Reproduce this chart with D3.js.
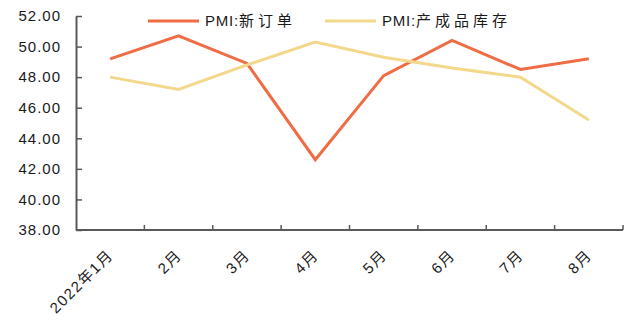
<!DOCTYPE html>
<html>
<head>
<meta charset="utf-8">
<script src="https://cdn.jsdelivr.net/npm/d3@7"></script>
<style>
  body { margin: 0; background: #fff; }
  text { font-family: "Liberation Sans", Arial, "Noto Sans CJK SC", sans-serif; fill: #1a1a1a; }
</style>
</head>
<body>
<div id="chart"></div>
<script>
// chart data
var months = ["2022年1月", "2月", "3月", "4月", "5月", "6月", "7月", "8月"];
var newOrders = [49.2, 50.7, 48.9, 42.6, 48.1, 50.4, 48.5, 49.2];
var finishedStock = [48.0, 47.2, 48.8, 50.3, 49.3, 48.6, 48.0, 45.2];
var yTicks = [38, 40, 42, 44, 46, 48, 50, 52];
var seriesNames = [["PMI:", "新订单"], ["PMI:", "产成品库存"]];
var colors = ["#ef6c45", "#f2d88a"];

var svgWidth = 630;
var svgHeight = 323;
var margin = { top: 16, right: 7, bottom: 93, left: 76 };
var width = svgWidth - margin.left - margin.right;
var height = svgHeight - margin.top - margin.bottom;

var svg = d3.select("#chart")
  .append("svg")
  .attr("width", svgWidth)
  .attr("height", svgHeight);

var chartGroup = svg.append("g")
  .attr("transform", `translate(${margin.left}, ${margin.top})`);

var xScale = d3.scaleBand()
  .domain(months)
  .range([0, width]);

var yScale = d3.scaleLinear()
  .domain([38, 52])
  .range([height, 0]);

// y axis, ticks point inward
var leftAxis = d3.axisLeft(yScale)
  .tickValues(yTicks)
  .tickSizeInner(-6)
  .tickSizeOuter(0)
  .tickPadding(15)
  .tickFormat(d3.format(".2f"));

var yAxis = chartGroup.append("g").call(leftAxis);
yAxis.select(".domain").attr("stroke", "#595959").attr("stroke-width", 2);
yAxis.selectAll(".tick line").attr("stroke", "#595959").attr("stroke-width", 1.5);
yAxis.selectAll(".tick text")
  .attr("font-size", "15px")
  .attr("letter-spacing", "1px")
  .attr("fill", "#1a1a1a");

// x axis with ticks on band boundaries
var xAxis = chartGroup.append("g")
  .attr("transform", `translate(0, ${height})`);
xAxis.append("line")
  .attr("x1", 0).attr("x2", width)
  .attr("stroke", "#595959").attr("stroke-width", 2);
xAxis.selectAll(".xtick")
  .data(months)
  .enter()
  .append("line")
  .attr("x1", d => xScale(d) + xScale.bandwidth())
  .attr("x2", d => xScale(d) + xScale.bandwidth())
  .attr("y1", 0).attr("y2", -5)
  .attr("stroke", "#595959").attr("stroke-width", 1.5);
xAxis.selectAll(".xlabel")
  .data(months)
  .enter()
  .append("text")
  .attr("text-anchor", "end")
  .attr("font-size", "15px")
  .attr("letter-spacing", "1.5px")
  .attr("transform", d => `translate(${xScale(d) + xScale.bandwidth() / 2 + 4}, ${26}) rotate(-45)`)
  .text(d => d);

// lines
var line = d3.line()
  .x((d, i) => xScale(months[i]) + xScale.bandwidth() / 2)
  .y(d => yScale(d));

[newOrders, finishedStock].forEach((s, i) => {
  chartGroup.append("path")
    .datum(s)
    .attr("fill", "none")
    .attr("stroke", colors[i])
    .attr("stroke-width", 3)
    .attr("d", line);
});

// legend
var legendX = [148, 325];
seriesNames.forEach((name, i) => {
  var g = svg.append("g").attr("transform", `translate(${legendX[i]}, 21)`);
  g.append("line")
    .attr("x1", 0).attr("x2", 51)
    .attr("stroke", colors[i]).attr("stroke-width", 3);
  var t = g.append("text")
    .attr("x", 57).attr("y", 4.5)
    .attr("font-size", "15px");
  t.append("tspan").attr("letter-spacing", "0.8px").text(name[0]);
  t.append("tspan").attr("letter-spacing", "4px").text(name[1]);
});
</script>
</body>
</html>
